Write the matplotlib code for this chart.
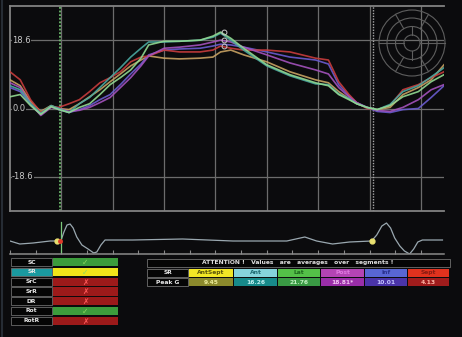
import numpy as np
import matplotlib.pyplot as plt
from matplotlib.patches import Rectangle, Circle

# === strain curves per segment (time in ms, strain in %) ===
t = [0, 20, 40, 60, 80, 95, 115, 135, 155, 175, 195, 215, 235, 255, 270, 300, 330, 370,
     395, 410, 430, 455, 500, 545, 595, 620, 640, 660, 675, 695, 715, 740, 765, 795, 820, 845]

strain_antsept = [7.8, 6.2, 1.9, -0.8, 0.8, 0.0, -0.3, 1.3, 3.2, 5.1, 7.3, 9.4, 11.6, 13.2, 14.3, 13.7, 13.5, 13.7,
                  14.0, 15.4, 15.9, 14.6, 12.7, 10.0, 7.8, 7.0, 4.6, 2.7, 1.3, 0.3, -0.3, 0.3, 3.8, 5.7, 7.8, 11.9]
strain_ant = [6.2, 5.1, 1.3, -1.3, 0.8, 0.0, -1.1, 1.3, 3.0, 5.7, 8.4, 11.1, 14.0, 16.4, 18.1, 18.1, 18.3, 18.6,
              19.4, 20.5, 18.6, 15.9, 11.6, 8.9, 6.7, 6.5, 4.0, 2.7, 1.3, 0.3, -0.3, 1.1, 4.6, 6.2, 8.6, 11.1]
strain_lat = [3.2, 3.8, 0.8, -1.6, 0.5, -0.3, -1.1, 0.3, 1.3, 3.8, 6.5, 8.4, 10.5, 13.7, 17.3, 18.3, 18.3, 18.6,
              19.7, 20.8, 19.1, 16.4, 11.9, 9.2, 7.0, 6.2, 3.8, 2.4, 1.3, 0.3, -0.3, 0.8, 3.2, 4.6, 7.3, 9.2]
strain_post = [7.0, 5.7, 1.3, -1.9, 0.3, 0.0, -0.8, -0.5, 0.3, 1.6, 3.0, 5.7, 8.4, 11.6, 14.3, 16.4, 16.7, 17.3,
               18.1, 18.6, 18.1, 16.7, 14.6, 12.4, 10.5, 9.4, 5.7, 3.2, 1.6, 0.3, -0.5, -0.8, 0.3, 2.4, 5.1, 6.5]
strain_inf = [5.7, 4.6, 1.1, -1.6, 0.5, -0.3, -1.1, -0.3, 0.8, 2.4, 3.8, 6.5, 9.4, 12.1, 14.6, 15.9, 16.2, 16.4,
              17.0, 17.5, 17.3, 16.7, 15.4, 14.0, 13.2, 12.1, 6.5, 3.5, 1.6, 0.3, -0.8, -1.1, -0.3, 0.0, 3.0, 6.2]
strain_sept = [10.0, 7.8, 2.4, -1.1, 0.5, 0.3, 1.3, 2.4, 4.6, 7.0, 8.4, 10.0, 12.7, 14.0, 14.3, 15.9, 15.4, 15.4,
               15.9, 17.0, 16.4, 15.9, 15.9, 15.4, 13.7, 13.2, 7.3, 3.8, 1.6, 0.0, -0.3, 0.8, 5.1, 6.5, 8.4, 10.0]

curve_colors = {'AntSept': '#c8a262', 'Inf': '#6a5cd0', 'Sept': '#c83c3c',
                'Post': '#a452bc', 'Ant': '#4aa8a0', 'Lat': '#92da92'}
curves = {'AntSept': strain_antsept, 'Inf': strain_inf, 'Sept': strain_sept,
          'Post': strain_post, 'Ant': strain_ant, 'Lat': strain_lat}
peak_marked = ['Lat', 'Post', 'Sept']

y_ticks = [18.6, 0.0, -18.6]
avc_t = 97     # green dotted marker
ref_t = 706    # white dotted marker

# === ECG trace ===
ecg_t = [0, 19, 45, 78, 91, 99, 105, 111, 117, 123, 130, 140, 152, 163, 169, 177, 185, 239, 336, 434,
         539, 574, 597, 628, 661, 704, 714, 724, 733, 741, 749, 759, 768, 778, 786, 794, 803, 842]
ecg_v = [0, -0.3, -0.2, 0, 0, 0, 0.9, 1.6, 1.7, 1.3, 0.4, -0.4, -0.8, -1.2, -1.1, -0.4, 0.1, 0.1, 0.2, 0,
         0, 0.4, 0, -0.3, -0.1, 0, 0.6, 1.5, 1.8, 1.3, 0.3, -0.5, -1.0, -1.3, -0.8, -0.1, 0.1, 0.1]
ecg_marks = [91, 704]

# === tables ===
params = ['SC', 'SR', 'SrC', 'SrR', 'DR', 'Rot', 'RotR']
param_ok = [True, True, False, False, False, True, False]
selected = 'SR'

segments = ['AntSept', 'Ant', 'Lat', 'Post', 'Inf', 'Sept']
peak_g = ['9.45', '16.26', '21.76', '18.81*', '10.01', '4.13']
seg_head = ['#f2e626', '#86d4dc', '#54c048', '#b444b4', '#5866d4', '#e0321e']
seg_head_txt = ['#5a5408', '#1d6a72', '#1d6a1d', '#e07ae0', '#2a3290', '#8a1a10']
seg_val = ['#8c8a2c', '#178a8a', '#3a9a44', '#9a2ea8', '#4a34a8', '#a01c1c']
seg_val_txt = ['#ecec98', '#bff0f0', '#c0f0c0', '#f2c4f2', '#c4c4ff', '#ffb4a4']

BG = '#0b0b0d'
GRID = '#6c6c6c'
W, H = 462, 337

fig = plt.figure(figsize=(W / 100, H / 100), dpi=100, facecolor=BG)

# --- strain plot ---
ax = fig.add_axes([10 / W, 1 - 211 / H, 434 / W, 205 / H], facecolor=BG)
ax.set_xlim(0, 845)
ax.set_ylim(-27.9, 27.9)
for v in y_ticks:
    ax.axhline(v, color=GRID, lw=0.9, zorder=1)
for k in range(1, 9):
    ax.axvline(k * 100, color=GRID, lw=0.9, zorder=1)
for side in ['left', 'top', 'bottom']:
    ax.spines[side].set_color('#828282')
    ax.spines[side].set_linewidth(1.3)
ax.spines['right'].set_visible(False)
ax.set_xticks([])
ax.set_yticks([])

for name, vals in curves.items():
    ax.plot(t, vals, color=curve_colors[name], lw=1.2, alpha=0.9, zorder=3)
for name in peak_marked:
    vals = np.array(curves[name])
    i = int(np.argmax(vals))
    ax.plot(t[i] + 6, vals[i], 'o', ms=3.5, mfc='none', mec='#c8c8c8', mew=0.7, zorder=4)

ax.axvline(avc_t, color='#6cbc6c', lw=1.3, ls=(0, (1, 1)), zorder=2)
ax.axvline(ref_t, color='#a8a8a8', lw=1.0, ls=(0, (1, 1)), zorder=2)

for v in y_ticks:
    ax.text(4, v, f'{v:.1f}', color='#c8c8c8', fontsize=6, va='center', ha='left',
            bbox=dict(facecolor=BG, edgecolor='none', pad=0.3), zorder=5)

# --- ECG strip ---
ex = fig.add_axes([10 / W, 1 - 254 / H, 434 / W, 36 / H], facecolor='none')
ex.set_xlim(0, 845)
ex.set_ylim(-1.3, 2.3)
ex.plot(ecg_t, ecg_v, color='#9aa8b0', lw=0.9)
ex.axvline(99, ymin=0.0, ymax=0.9, color='#7cc87c', lw=0.9)
mk_v = np.interp(ecg_marks, ecg_t, ecg_v)
ex.plot(ecg_marks, mk_v, 'o', ms=3.5, color='#e8e070', zorder=4)
ex.plot([97], [np.interp(97, ecg_t, ecg_v)], 'o', ms=2.5, color='#e03a2a', zorder=5)
for side in ['left', 'top', 'right']:
    ex.spines[side].set_visible(False)
ex.spines['bottom'].set_color('#8a8a8a')
ex.spines['bottom'].set_linewidth(1.1)
ex.set_xticks(np.arange(0, 846, 50))
ex.set_xticklabels([])
ex.set_yticks([])
ex.tick_params(axis='x', direction='in', length=3, color='#8a8a8a', width=0.8)

# --- overlay in pixel units: bullseye and tables ---
ov = fig.add_axes([0, 0, 1, 1], facecolor='none')
ov.set_xlim(0, W)
ov.set_ylim(H, 0)
ov.axis('off')
ov.plot([2, 2], [0, H], color='#262c34', lw=1.5)

cx, cy = 412, 43
for r in [33, 25, 16.5, 8]:
    ov.add_patch(Circle((cx, cy), r, fill=False, ec='#5e5e5e', lw=0.8))
for a in np.deg2rad(np.arange(0, 360, 60)):
    ov.plot([cx + 16.5 * np.cos(a), cx + 33 * np.cos(a)],
            [cy + 16.5 * np.sin(a), cy + 33 * np.sin(a)], color='#5e5e5e', lw=0.8)
for a in np.deg2rad(np.arange(0, 360, 90)):
    ov.plot([cx + 8 * np.cos(a), cx + 16.5 * np.cos(a)],
            [cy + 8 * np.sin(a), cy + 16.5 * np.sin(a)], color='#5e5e5e', lw=0.8)

# parameter status table
row_h, pitch, y0 = 8.3, 9.75, 258
for i, (p, ok) in enumerate(zip(params, param_ok)):
    y = y0 + i * pitch
    lab_fc = '#1a9aa0' if p == selected else '#050505'
    ov.add_patch(Rectangle((11, y), 41, row_h, fc=lab_fc, ec='#6a6a6a', lw=0.6))
    ov.text(31.5, y + row_h / 2, p, color='#e8e8e8', fontsize=4.3, ha='center', va='center',
            fontweight='bold')
    if p == selected:
        fc = '#f0e41a'
    else:
        fc = '#3c9c3c' if ok else '#9c1a1a'
    ov.add_patch(Rectangle((53, y), 65, row_h, fc=fc, ec='none'))
    ov.text(85.5, y + row_h / 2 + 0.3, '\u2713' if ok else '\u2717',
            color='#8cd860' if ok else '#ff5a5a', fontsize=5.5, ha='center', va='center',
            fontweight='bold')

# segment average table
edges = [189, 234, 278, 321, 365, 408, 450]
ov.add_patch(Rectangle((147, 259), 303, 7.5, fc='#050505', ec='#707070', lw=0.6))
ov.text(298, 262.8, 'ATTENTION !   Values   are   averages   over   segments !',
        color='#e0e0e0', fontsize=4.3, ha='center', va='center', fontweight='bold')
for y, lab in [(268.5, selected), (278.2, 'Peak G')]:
    ov.add_patch(Rectangle((147, y), 41, 8.2, fc='#050505', ec='#707070', lw=0.6))
    ov.text(167.5, y + 4.1, lab, color='#e8e8e8', fontsize=4.3, ha='center', va='center',
            fontweight='bold')
for j, seg in enumerate(segments):
    x, w = edges[j], edges[j + 1] - edges[j] - 1
    ov.add_patch(Rectangle((x, 268.5), w, 8.2, fc=seg_head[j], ec='none'))
    ov.text(x + w / 2, 272.6, seg, color=seg_head_txt[j], fontsize=4.3, ha='center',
            va='center', fontweight='bold')
    ov.add_patch(Rectangle((x, 278.2), w, 8.2, fc=seg_val[j], ec='none'))
    ov.text(x + w / 2, 282.3, peak_g[j], color=seg_val_txt[j], fontsize=4.3, ha='center',
            va='center', fontweight='bold')

fig.savefig('out.png', dpi=100, facecolor=BG)
